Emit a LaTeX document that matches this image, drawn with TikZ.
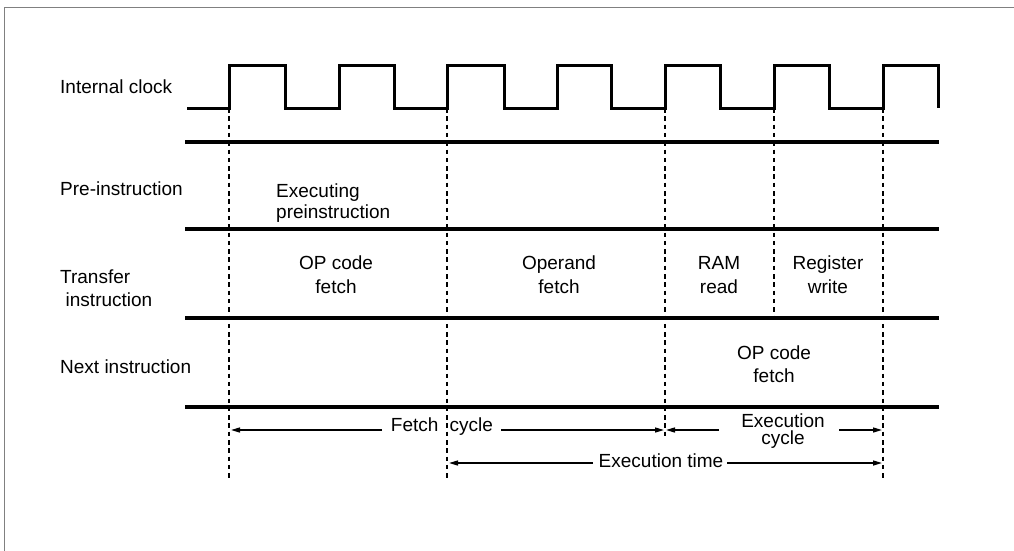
\documentclass[tikz,border=0pt]{standalone}
\usepackage{fontspec}
\setmainfont{Liberation Sans}
\usetikzlibrary{arrows.meta}
\begin{document}
\begin{tikzpicture}[x=1pt,y=-1pt,
  txt/.style={font=\fontsize{19}{23}\selectfont, inner sep=0pt, align=center},
  rowlbl/.style={txt, anchor=west, align=left},
  clk/.style={line width=3pt, line join=miter, line cap=butt},
  bar/.style={line width=3.6pt},
  marker/.style={line width=2.4pt, dash pattern=on 4.5pt off 3.8pt},
  dimarrow/.style={line width=1.4pt, -{Triangle[length=9pt,width=5pt]}},
  frameline/.style={line width=1.5pt, draw=black!50}
]
\useasboundingbox (0,0) rectangle (1014,550);
% frame (top and left edges)
\draw[frameline] (4.5,552) -- (4.5,7.5) -- (1016,7.5);

% row labels
\node[rowlbl] (lclk) at (60,87) {Internal clock};
\node[rowlbl] (lpre) at (60,189) {Pre-instruction};
\node[rowlbl] (ltra) at (60,288) {Transfer\\\hspace*{5.5pt}instruction};
\node[rowlbl] (lnext) at (60,367) {Next instruction};

% clock
\draw[clk] (187,108) -- (229,108) -- (229,65) -- (285,65) -- (285,108)
  -- (339,108) -- (339,65) -- (394,65) -- (394,108)
  -- (447,108) -- (447,65) -- (504,65) -- (504,108)
  -- (557,108) -- (557,65) -- (611,65) -- (611,108)
  -- (665,108) -- (665,65) -- (720,65) -- (720,108)
  -- (774,108) -- (774,65) -- (829,65) -- (829,108)
  -- (883,108) -- (883,65) -- (938,65) -- (938,108);

% row separators
\draw[bar] (185,142) -- (939,142);
\draw[bar] (185,229) -- (939,229);
\draw[bar] (185,318) -- (939,318);
\draw[bar] (185,407) -- (939,407);

% marker lines
\coordinate (m1t) at (229,108); \coordinate (m1b) at (229,481);
\coordinate (m2t) at (447,108); \coordinate (m2b) at (447,481);
\coordinate (m3t) at (665,108); \coordinate (m3b) at (665,437);
\coordinate (m4t) at (774,108); \coordinate (m4b) at (774,318);
\coordinate (m5t) at (883,108); \coordinate (m5b) at (883,481);
\draw[marker] (m1t) -- (m1b);
\draw[marker] (m2t) -- (m2b);
\draw[marker] (m3t) -- (m3b);
\draw[marker] (m4t) -- (m4b);
\draw[marker] (m5t) -- (m5b);

% row contents
\node[txt, anchor=west, align=left, font=\fontsize{19}{21}\selectfont] (exe) at (276,203) {Executing\\preinstruction};
\node[txt, font=\fontsize{19}{24}\selectfont] (opf1) at (336,275) {OP code\\fetch};
\node[txt, font=\fontsize{19}{24}\selectfont] (opd) at (559,275) {Operand\\fetch};
\node[txt, font=\fontsize{19}{24}\selectfont] (ram) at (719,275) {RAM\\read};
\node[txt, font=\fontsize{19}{24}\selectfont] (reg) at (828,275) {Register\\write};
\node[txt, font=\fontsize{19}{23}\selectfont] (opf2) at (774,364.5) {OP code\\fetch};

% fetch cycle
\node[txt] (fc) at (442,427) {Fetch\hspace{6pt} cycle};
\coordinate (fcL) at (382,430); \coordinate (fcLt) at (231,430);
\coordinate (fcR) at (501,430); \coordinate (fcRt) at (664,430);
\draw[dimarrow] (fcL) -- (fcLt);
\draw[dimarrow] (fcR) -- (fcRt);

% execution cycle
\node[txt, font=\fontsize{19}{17.5}\selectfont] (ec) at (783,431) {Execution\\cycle};
\coordinate (ecL) at (719,430); \coordinate (ecLt) at (666,430);
\coordinate (ecR) at (839,430); \coordinate (ecRt) at (882,430);
\draw[dimarrow] (ecL) -- (ecLt);
\draw[dimarrow] (ecR) -- (ecRt);

% execution time
\node[txt] (et) at (661,461) {Execution time};
\coordinate (etL) at (593,463); \coordinate (etLt) at (449,463);
\coordinate (etR) at (727,463); \coordinate (etRt) at (882,463);
\draw[dimarrow] (etL) -- (etLt);
\draw[dimarrow] (etR) -- (etRt);
\end{tikzpicture}
\end{document}
